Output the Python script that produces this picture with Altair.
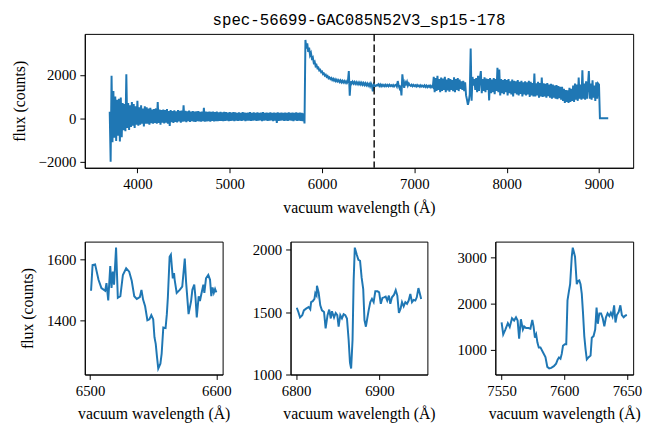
import altair as alt
import pandas as pd

TITLE = "spec-56699-GAC085N52V3_sp15-178"
XLABEL = "vacuum wavelength (Å)"
YLABEL = "flux (counts)"
HALPHA = 6564.61
BLUE = "#1f77b4"

# Overview spectrum: flux read every 10 Å, grouped in 100 Å blocks
TOP_STEP = 10
TOP_BLOCKS = {
    3700: [300, -2000, 1950, -1100, 1250, -900, 1000, -1050, 850, -800],
    3800: [900, -1070, 950, -870, 700, -550, 650, -600, 2020, -450],
    3900: [700, -540, 600, -400, 750, -350, 650, -450, 550, -300],
    4000: [800, -350, 500, -300, 600, -250, 450, -380, 550, -250],
    4100: [500, -250, 450, -300, 480, -230, 400, -250, 420, -220],
    4200: [450, -250, 740, -220, 400, -300, 380, -200, 400, -240],
    4300: [380, -200, 420, -250, 330, -360, 370, -180, 330, -220],
    4400: [360, -170, 320, -190, 380, -150, 340, -200, 350, -160],
    4500: [590, -150, 340, -180, 320, -140, 350, -170, 300, -130],
    4600: [330, -160, 300, -170, 320, -140, 330, -150, 290, -160],
    4700: [310, -140, 480, -160, 300, -150, 290, -130, 310, -160],
    4800: [290, -120, 300, -150, 280, -130, 300, -140, 270, -120],
    4900: [290, -120, 270, -140, 290, -120, 280, -110, 260, -130],
    5000: [280, -120, 260, -110, 280, -130, 270, -110, 250, -120],
    5100: [270, -110, 250, -120, 280, -100, 260, -140, 250, -110],
    5200: [260, -110, 280, -120, 250, -110, 270, -100, 250, -120],
    5300: [270, -110, 250, -100, 260, -130, 280, -110, 250, -100],
    5400: [260, -120, 250, -110, 270, -100, 250, -130, 260, -110],
    5500: [250, -220, 270, -120, 250, -110, 260, -100, 250, -120],
    5600: [260, -110, 250, -120, 270, -100, 250, -110, 260, -130],
    5700: [250, -100, 270, -120, 250, -110, 260, -120, 250, -140],
    5800: [230, -240, 3600, 3200, 3450, 3050, 3250, 2900, 3000, 2750],
    5900: [2800, 2550, 2600, 2400, 2450, 2300, 2330, 2200, 2230, 2120],
    6000: [2150, 2030, 2060, 1960, 2000, 1900, 1940, 1840, 1880, 1800],
    6100: [1850, 1760, 1820, 1730, 1790, 1700, 1770, 1690, 1750, 1670],
    6200: [1740, 1650, 1720, 1640, 1710, 1630, 1700, 1620, 1690, 2170],
    6300: [1040, 1700, 1600, 1680, 1590, 1670, 1580, 1660, 1570, 1650],
    6400: [1560, 1640, 1550, 1630, 1540, 1620, 1530, 1610, 1520, 1600],
    6500: [1500, 1580, 1470, 1600, 1500, 1240, 1560, 1500, 1480, 1520],
    6600: [1510, 1560, 1480, 1550, 1470, 1540, 1480, 1530, 1470, 1540],
    6700: [1480, 1530, 1470, 1540, 1480, 1520, 1470, 1530, 1460, 1520],
    6800: [1540, 1460, 1710, 1500, 1380, 1500, 1050, 2020, 1600, 1400],
    6900: [1660, 1570, 1680, 1500, 1600, 1520, 1490, 1540, 1470, 1530],
    7000: [1480, 1520, 1460, 1530, 1470, 1510, 1450, 1520, 1460, 1500],
    7100: [1450, 1510, 1440, 1500, 1430, 1490, 1440, 1500, 1420, 1480],
    7200: [1430, 1900, 1200, 1850, 1250, 1950, 1300, 1800, 1200, 1870],
    7300: [1250, 1820, 1300, 1900, 1200, 1780, 1280, 1850, 1220, 1800],
    7400: [1300, 1750, 1250, 1880, 1200, 1800, 1300, 1850, 1250, 1780],
    7500: [1350, 1700, 1300, 1720, 1250, 1650, 1050, 850, 620, 800],
    7600: [1100, 3210, 800, 1900, 1500, 1800, 1300, 1850, 1200, 1950],
    7700: [1250, 1850, 2170, 1150, 1800, 1250, 1880, 1200, 1820, 1300],
    7800: [1800, 820, 1850, 1150, 1780, 1200, 1850, 1100, 1800, 1250],
    7900: [2320, 1200, 2240, 1050, 1800, 1150, 1750, 1100, 1800, 1200],
    8000: [1750, 1050, 1800, 1150, 1700, 1100, 1780, 1000, 1720, 1150],
    8100: [1700, 1100, 1750, 1050, 1680, 1120, 1720, 1000, 1650, 1100],
    8200: [1700, 1050, 1650, 1100, 1720, 980, 1680, 1050, 1620, 1000],
    8300: [2050, 1000, 1600, 1050, 1680, 950, 1620, 1000, 1870, 980],
    8400: [1600, 1000, 1580, 950, 1620, 1020, 1550, 950, 1580, 900],
    8500: [1550, 950, 1500, 900, 1520, 880, 1480, 920, 1450, 850],
    8600: [1450, 800, 1350, 700, 1300, 750, 1280, 700, 1400, 750],
    8700: [1350, 800, 1500, 750, 1600, 850, 1550, 800, 1870, 900],
    8800: [1550, 850, 2200, 900, 1600, 850, 1700, 900, 1500, 2170],
    8900: [900, 1600, 850, 1750, 950, 1500, 800, 1650, 900, 1600],
    9000: [1550, 0, 0, 0, 0, 0, 0, 0, 0, 0, 0],
}

# Zoom 1: around H-alpha
P1_WL = [6500.8, 6502, 6504, 6506.7, 6509, 6512, 6513, 6514.4, 6516, 6517, 6518, 6519,
         6520.6, 6522, 6524, 6526, 6528.6, 6531, 6533, 6535, 6537, 6539.4, 6540.7, 6542,
         6543.6, 6545.4, 6547, 6548.5, 6550, 6551, 6552, 6553, 6554, 6555.7, 6556.7, 6558,
         6559.8, 6560.8, 6561.6, 6563, 6564, 6565.5, 6566.5, 6567, 6568.6, 6571, 6573, 6575,
         6576, 6578, 6580, 6581, 6582.5, 6583.5, 6584.5, 6586, 6587, 6588, 6589.7, 6590.5,
         6591.8, 6593.6, 6595, 6596, 6597, 6598, 6599, 6600]
P1_FX = [1497, 1582, 1584, 1533, 1506, 1497, 1522, 1465, 1578, 1506, 1560, 1517,
         1639, 1474, 1479, 1549, 1571, 1560, 1530, 1479, 1470, 1476, 1500, 1468,
         1446, 1400, 1403, 1417, 1403, 1344, 1322, 1279, 1241, 1257, 1290, 1376,
         1374, 1420, 1474, 1609, 1616, 1538, 1555, 1533, 1490, 1500, 1511, 1603,
         1528, 1420, 1463, 1500, 1517, 1474, 1409, 1479, 1463, 1484, 1517, 1490,
         1538, 1549, 1533, 1479, 1508, 1490, 1503, 1492]

# Zoom 2: B band
P2_WL = [6800.8, 6802.7, 6804.7, 6807.4, 6809.3, 6812, 6815, 6817, 6818, 6820, 6822, 6823,
         6824.5, 6825, 6827, 6829, 6831, 6833.5, 6835.4, 6837.7, 6839.7, 6841.6, 6843, 6845.5,
         6847.5, 6849.4, 6851, 6853, 6855, 6857, 6859, 6861, 6863, 6864.6, 6866, 6867.7,
         6869, 6870.4, 6872.8, 6874.7, 6876.7, 6878.6, 6880.5, 6882, 6883.7, 6885, 6887, 6889,
         6891, 6893, 6895, 6897.7, 6899.6, 6901.6, 6903.5, 6905.4, 6907.4, 6909.3, 6911.3, 6913,
         6915, 6917.5, 6919.5, 6921.4, 6923.3, 6925.3, 6927, 6929, 6931, 6933, 6935, 6937,
         6939, 6941, 6943, 6944.7, 6946.7, 6948, 6950]
P2_FX = [1535, 1501, 1457, 1475, 1514, 1528, 1541, 1522, 1580, 1588, 1606, 1651,
         1633, 1711, 1659, 1554, 1514, 1501, 1370, 1475, 1520, 1449, 1507, 1457,
         1493, 1475, 1383, 1475, 1449, 1483, 1475, 1449, 1278, 1094, 1047, 1278,
         1751, 2018, 1961, 1921, 1913, 1777, 1685, 1436, 1383, 1436, 1514, 1580,
         1606, 1580, 1667, 1667, 1659, 1567, 1614, 1619, 1625, 1593, 1633, 1567,
         1619, 1640, 1677, 1633, 1493, 1528, 1580, 1546, 1580, 1567, 1593, 1646,
         1580, 1598, 1593, 1619, 1693, 1659, 1606]

# Zoom 3: A band
P3_WL = [7550, 7551.3, 7553, 7555, 7556.5, 7558.3, 7560, 7561.5, 7562.8, 7564, 7565.4, 7567,
         7568, 7569.5, 7571.4, 7573, 7574.5, 7575.5, 7576.6, 7577.6, 7578.6, 7579.7, 7581, 7583,
         7585, 7586.5, 7588, 7589.6, 7591.7, 7593.5, 7594.8, 7595.8, 7597, 7598, 7599, 7600.5,
         7601.6, 7602.6, 7603.6, 7604.7, 7606, 7606.8, 7607.8, 7608.6, 7610, 7611, 7612, 7613,
         7614, 7615, 7616, 7617, 7618, 7619.5, 7621, 7622, 7623.4, 7624.7, 7625.8, 7626.8,
         7628, 7629.4, 7630.7, 7632, 7633.3, 7634.6, 7636, 7637.2, 7638.5, 7639.8, 7640.9, 7642,
         7643.5, 7644.8, 7646, 7647.4, 7648.7, 7650]
P3_FX = [1594, 1336, 1441, 1580, 1497, 1685, 1636, 1706, 1636, 1245, 1664, 1441,
         1510, 1476, 1476, 1462, 1650, 1510, 1266, 1336, 1161, 1056, 1056, 951,
         846, 636, 601, 615, 650, 706, 797, 839, 811, 916, 1091, 1126,
         1126, 2070, 2245, 2420, 3014, 3210, 3105, 3014, 2420, 2490, 2503, 2420,
         2210, 1790, 1300, 1021, 797, 846, 881, 1266, 1300, 1441, 1916, 1566,
         1790, 1790, 1685, 1510, 1706, 1790, 1734, 1804, 1720, 1965, 1594, 1755,
         1825, 1965, 1755, 1706, 1741, 1755]

TOP_XTICKS = [4000, 5000, 6000, 7000, 8000, 9000]
TOP_YTICKS = [-2000, 0, 2000]
P1_XTICKS, P1_YTICKS = [6500, 6600], [1400, 1600]
P2_XTICKS, P2_YTICKS = [6800, 6900], [1000, 1500, 2000]
P3_XTICKS, P3_YTICKS = [7550, 7600, 7650], [1000, 2000, 3000]

top_wl, top_fx = [], []
for start, vals in TOP_BLOCKS.items():
    for i, v in enumerate(vals):
        top_wl.append(start + TOP_STEP * i)
        top_fx.append(v)


def padded(values, frac=0.05):
    lo, hi = min(values), max(values)
    m = (hi - lo) * frac
    return [lo - m, hi + m]


SERIF = "Liberation Serif"


def line_chart(wl, fx, xticks, yticks, ytitle, width, height):
    df = pd.DataFrame({"wl": wl, "flux": fx})
    if ytitle:
        yaxis = alt.Axis(values=yticks, format="d", title=ytitle)
    else:
        yaxis = alt.Axis(values=yticks, format="d", title=None)
    return alt.Chart(df).mark_line(color=BLUE, strokeWidth=2, clip=True).encode(
        x=alt.X("wl:Q", scale=alt.Scale(domain=padded(wl), nice=False, zero=False),
                axis=alt.Axis(values=xticks, format="d", title=XLABEL)),
        y=alt.Y("flux:Q", scale=alt.Scale(domain=padded(fx), nice=False, zero=False), axis=yaxis),
        order="wl:Q",
    ).properties(width=width, height=height)


top_line = line_chart(top_wl, top_fx, TOP_XTICKS, TOP_YTICKS, YLABEL, 557, 136)
halpha = alt.Chart(pd.DataFrame({"wl": [HALPHA]})).mark_rule(
    color="#111111", strokeDash=[7.5, 3.3], strokeWidth=1.5
).encode(x="wl:Q")
top = alt.layer(top_line, halpha).properties(
    width=557, height=136,
    title=alt.TitleParams(TITLE, font="Liberation Mono", fontSize=16, fontWeight="normal",
                          color="black", anchor="middle", offset=5),
)

p1 = line_chart(P1_WL, P1_FX, P1_XTICKS, P1_YTICKS, YLABEL, 140, 135)
p2 = line_chart(P2_WL, P2_FX, P2_XTICKS, P2_YTICKS, None, 139, 135)
p3 = line_chart(P3_WL, P3_FX, P3_XTICKS, P3_YTICKS, None, 140, 135)

bottom = alt.hconcat(p1, p2, p3, spacing=69, bounds="flush")

chart = alt.vconcat(top, bottom, spacing=75, bounds="flush").properties(
    padding={"left": 3, "top": 0, "right": 0, "bottom": 0}
).configure_view(stroke="black", strokeWidth=1).configure_axis(
    labelFont=SERIF, labelFontSize=15, labelColor="black",
    titleFont=SERIF, titleFontSize=16, titleFontWeight="normal", titleColor="black",
    tickColor="black", domainColor="black", tickSize=5, labelPadding=3,
    titlePadding=6, grid=False, domainWidth=1, tickWidth=1,
).configure_axisX(labelPadding=4, titlePadding=8).configure_axisY(
    labelPadding=4, titlePadding=11
).configure_concat(spacing=69)

chart.save("out.html", embed_options={"renderer": "svg", "actions": False})
